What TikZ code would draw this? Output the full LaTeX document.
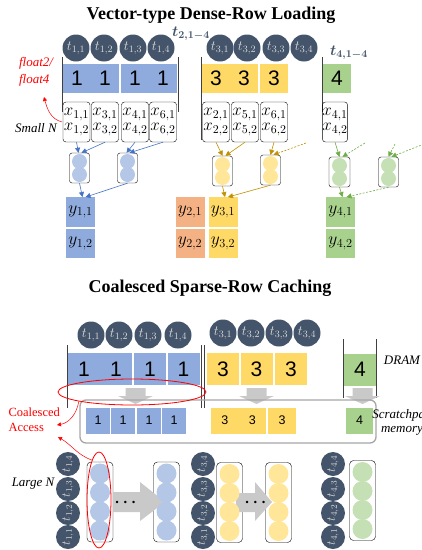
\RequirePackage{fix-cm}
\documentclass[tikz,border=0pt]{standalone}
\usepackage{amsmath}
\usepackage{bm}
\usepackage{fontspec}
\setmainfont{Liberation Serif}
\setsansfont{Liberation Sans}
\usetikzlibrary{arrows.meta,shapes.geometric}

\definecolor{slate}{HTML}{44546A}
\definecolor{tgray}{HTML}{D9D9D9}
\definecolor{cblue}{HTML}{8FAADC}
\definecolor{cyellow}{HTML}{FFD966}
\definecolor{cgreen}{HTML}{A9D18E}
\definecolor{corange}{HTML}{F4B183}
\definecolor{lblue}{HTML}{B4C7E7}
\definecolor{lyellow}{HTML}{FFE699}
\definecolor{lgreen}{HTML}{C5E0B4}
\definecolor{ablue}{HTML}{4472C4}
\definecolor{agold}{HTML}{BF9000}
\definecolor{agreen}{HTML}{70AD47}
\definecolor{ggray}{HTML}{C9C9C9}

\tikzset{
  title/.style={font=\fontsize{18}{20}\selectfont\bfseries},
  tnode/.style={circle, fill=slate, text=tgray, minimum size=27pt, inner sep=0pt, font=\fontsize{14}{14}\selectfont},
  tcol/.style={tnode, minimum size=24pt, rotate=90, font=\fontsize{12.5}{12.5}\selectfont},
  cell/.style={minimum width=28pt, minimum height=29pt, inner sep=0pt, font=\sffamily\fontsize{21}{21}\selectfont},
  dcell/.style={cell, minimum width=32pt, minimum height=32pt},
  scell/.style={cell, minimum width=24pt, minimum height=26pt, font=\sffamily\fontsize{12.5}{12.5}\selectfont},
  xbox/.style={draw, rounded corners=3pt, minimum width=27pt, minimum height=40pt, inner sep=0pt, align=center, font=\fontsize{17}{15.5}\selectfont},
  pool/.style={draw, rounded corners=2.5pt, minimum width=20pt, minimum height=30pt, inner sep=0pt},
  bbox/.style={draw, rounded corners=4pt, minimum width=26pt, minimum height=80pt, inner sep=0pt},
  yblk/.style={minimum width=29pt, minimum height=29.5pt, inner sep=0pt, font=\fontsize{17.5}{17.5}\selectfont},
  lane/.style={line width=0.9pt, black!75},
  note/.style={font=\fontsize{13}{17}\selectfont\itshape, align=left},
  flow/.style={-{Triangle[length=5pt,width=5pt]}, line width=0.6pt},
  dashflow/.style={flow, dash pattern=on 2pt off 1.5pt},
  redarr/.style={red, line width=0.5pt, -{Triangle[length=4pt,width=4pt]}},
  garrow/.style={fill=ggray},
}

\begin{document}
\begin{tikzpicture}[x=1pt, y=-1pt]
            \clip (0,0) rectangle (422,550);
            \node[title] (head1) at (211,15) {Vector-type Dense-Row Loading};

            \foreach \j/\x in {1/76,2/104,3/133,4/161} \node[tnode] (ta\j) at (\x,48) {$t_{1,\j}$};
            \foreach \j/\x in {1/220,2/247,3/276,4/304} \node[tnode] (tc\j) at (\x,48) {$t_{3,\j}$};
            \node[text=slate, font=\fontsize{15}{15}\selectfont] (tb) at (191,34) {$\bm{t_{2,1-4}}$};
            \node[text=slate, font=\fontsize{15}{15}\selectfont] (td) at (349,53) {$\bm{t_{4,1-4}}$};

            \foreach \x [count=\k] in {77,105,135,163} \node[cell, fill=cblue] (da\k) at (\x,78.5) {1};
            \foreach \x [count=\k] in {216,244,274} \node[cell, fill=cyellow] (dc\k) at (\x,78.5) {3};
            \node[cell, fill=cgreen] (dd1) at (337,78.5) {4};

            \draw[lane] (62,57) -- (62,112);
            \draw[lane] (178,57) -- (178,112);
            \draw[lane] (201,57) -- (201,140);
            \draw[lane] (322,57) -- (322,112);

            \foreach \i/\x in {1/76.5,3/105,4/135,6/163} \node[xbox] (xa\i) at (\x,122) {$x_{\i,1}$\\$x_{\i,2}$};
            \foreach \i/\x in {2/216,5/245,6/274} \node[xbox] (xc\i) at (\x,122) {$x_{\i,1}$\\$x_{\i,2}$};
            \node[xbox, minimum width=25pt] (xd4) at (335,122) {$x_{4,1}$\\$x_{4,2}$};

            \node[note, text=red] (fl) at (36,72) {float2/\\float4};
            \node[note] (sn) at (36,128) {Small N};
            \coordinate (fa) at (62,122);
            \coordinate (fb) at (44,97);
            \draw[redarr] (fa) to[out=165,in=-75] (fb);

            \node[pool] (pa1) at (79.5,168) {};
            \node[pool] (pa2) at (127.5,168) {};
            \node[pool] (pc1) at (222.5,171) {};
            \node[pool] (pc2) at (270.5,170) {};
            \node[pool, minimum width=21pt] (pd1) at (339.5,172) {};
            \node[pool] (pd2) at (388.5,172) {};
            \foreach \p/\col in {pa1/lblue,pa2/lblue,pc1/lyellow,pc2/lyellow,pd1/lgreen,pd2/lgreen}
              \foreach \dy in {-6.5,6.5} \fill[\col] ([yshift=\dy pt]\p.center) circle[radius=7.5pt];

            \foreach \i/\x/\col in {1/80.5/cblue,2/190/corange,3/223/cyellow,4/340.5/cgreen} {
              \node[yblk, fill=\col] (y\i a) at (\x,212) {$y_{\i,1}$};
              \node[yblk, fill=\col] (y\i b) at (\x,243.5) {$y_{\i,2}$};
            }

            \coordinate (dy) at (306,143);
            \coordinate (dg1) at (365,143);
            \coordinate (dg2) at (395,144);
            \coordinate (dg3) at (424,144);
            \draw[flow, ablue] (xa1.south) -- ([xshift=-1pt]pa1.north);
            \draw[flow, ablue] (xa3.south) -- ([xshift=2pt]pa1.north);
            \draw[flow, ablue] (xa4.south) -- ([xshift=-1pt]pa2.north);
            \draw[flow, ablue] (xa6.south) -- ([xshift=2pt]pa2.north);
            \draw[flow, ablue] (pa1.south) -- ([xshift=2pt]y1a.north);
            \draw[flow, ablue] (pa2.south) -- ([xshift=5pt]y1a.north);
            \draw[flow, agold] (xc2.south) -- (pc1.north);
            \draw[flow, agold] (xc5.south) -- ([xshift=3pt]pc1.north);
            \draw[flow, agold] (xc6.south) -- (pc2.north);
            \draw[dashflow, agold] (dy) -- ([xshift=3pt]pc2.north);
            \draw[flow, agold] (pc1.south) -- ([xshift=2pt]y3a.north);
            \draw[flow, agold] (pc2.south) -- ([xshift=5pt]y3a.north);
            \draw[flow, agreen] (xd4.south) -- (pd1.north);
            \draw[dashflow, agreen] (dg1) -- ([xshift=3pt]pd1.north);
            \draw[dashflow, agreen] (dg2) -- (pd2.north);
            \draw[dashflow, agreen] (dg3) -- ([xshift=3pt]pd2.north);
            \draw[flow, agreen] (pd1.south) -- ([xshift=2pt]y4a.north);
            \draw[dashflow, agreen] (pd2.south) -- ([xshift=6pt]y4a.north);

            \node[title] (head2) at (210,288) {Coalesced Sparse-Row Caching};
            \foreach \j/\x in {1/91,2/119,3/148,4/178} \node[tnode] (ua\j) at (\x,335) {$t_{1,\j}$};
            \foreach \j/\x in {1/223,2/251,3/279,4/307} \node[tnode] (uc\j) at (\x,333) {$t_{3,\j}$};
            \foreach \x [count=\k] in {84,116,150,183.5} \node[dcell, fill=cblue] (ma\k) at (\x,369) {1};
            \foreach \x [count=\k] in {223,256.5,291} \node[dcell, fill=cyellow] (mc\k) at (\x,369) {3};
            \node[dcell, fill=cgreen] (md1) at (360,369.5) {4};
            \draw[lane] (67,345) -- (67,408);
            \draw[lane] (201,345) -- (201,408);
            \draw[lane] (204,345) -- (204,408);
            \draw[lane] (343,339) -- (343,398);
            \draw[lane] (376,339) -- (376,398);
            \node[note] (dram) at (402,360) {DRAM};

            \foreach \cx in {135.5,256.5,362.5}
              \fill[garrow] ({\cx-10},388) -- ({\cx+10},388) -- ({\cx+10},396) -- ({\cx+17.5},396) -- (\cx,404) -- ({\cx-17.5},396) -- ({\cx-10},396) -- cycle;
            \draw[black!35, line width=1.3pt, rounded corners=6pt] (80,400) rectangle (376,443);
            \foreach \x [count=\k] in {98,123,149,174} \node[scell, fill=cblue] (sa\k) at (\x,420.5) {1};
            \foreach \x [count=\k] in {224.75,252.25,282} \node[scell, fill=cyellow, minimum width=27.5pt] (sc\k) at (\x,420.5) {3};
            \node[scell, fill=cgreen, minimum width=27pt] (sd1) at (359.5,420.5) {4};
            \node[note, align=center, font=\fontsize{13}{14}\selectfont\itshape] (spad) at (402,422) {Scratchpad\\memory};

            \node[ellipse, draw=red, line width=0.8pt, minimum width=148pt, minimum height=26pt, inner sep=0pt] (ca) at (132,392) {};
            \node[text=red, align=left, anchor=west, font=\fontsize{12.5}{15}\selectfont] (acc) at (5,420) {Coalesced\\Access};
            \coordinate (cx1) at (57,425);
            \coordinate (cx2) at (58,437);
            \draw[redarr] (ca.190) to[out=-100,in=10] (cx1);
            \node[note] (ln) at (33,484) {Large N};

            \foreach \j/\y in {4/464,3/489,2/513,1/537} {
              \node[tcol] (va\j) at (68,\y) {$t_{1,\j}$};
              \node[tcol] (vc\j) at (203,\y) {$t_{3,\j}$};
              \node[tcol] (vd\j) at (333,\y) {$t_{4,\j}$};
            }
            \node[bbox] (ba1) at (100,502) {};
            \node[bbox] (ba2) at (166.5,502) {};
            \node[bbox] (bc1) at (229.5,502.5) {};
            \node[bbox] (bc2) at (278.5,502.5) {};
            \node[bbox] (bd1) at (362.5,500.5) {};
            \fill[garrow] (113,492) -- (140,492) -- (140,482) -- (165,502) -- (140,521) -- (140,512) -- (113,512) -- cycle;
            \fill[garrow] (236,493) -- (255,493) -- (255,482) -- (272,502) -- (255,521) -- (255,512) -- (236,512) -- cycle;
            \foreach \bx/\col in {ba1/lblue,ba2/lblue,bc1/lyellow,bc2/lyellow,bd1/lgreen}
              \foreach \dy in {-28.5,-9.5,9.5,28.5} \fill[\col] ([yshift=\dy pt]\bx.center) circle[radius=10pt];
            \node[font=\fontsize{16}{16}\selectfont] (dots1) at (127,503) {$\bm{\cdots}$};
            \node[font=\fontsize{16}{16}\selectfont] (dots2) at (257,503) {$\bm{\cdots}$};
            \node[ellipse, draw=red, line width=0.8pt, minimum width=24pt, minimum height=96pt, inner sep=0pt] (cb) at (99,500) {};
            \draw[redarr] (cb.100) to[out=160,in=-30] (cx2);
\end{tikzpicture}
\end{document}
